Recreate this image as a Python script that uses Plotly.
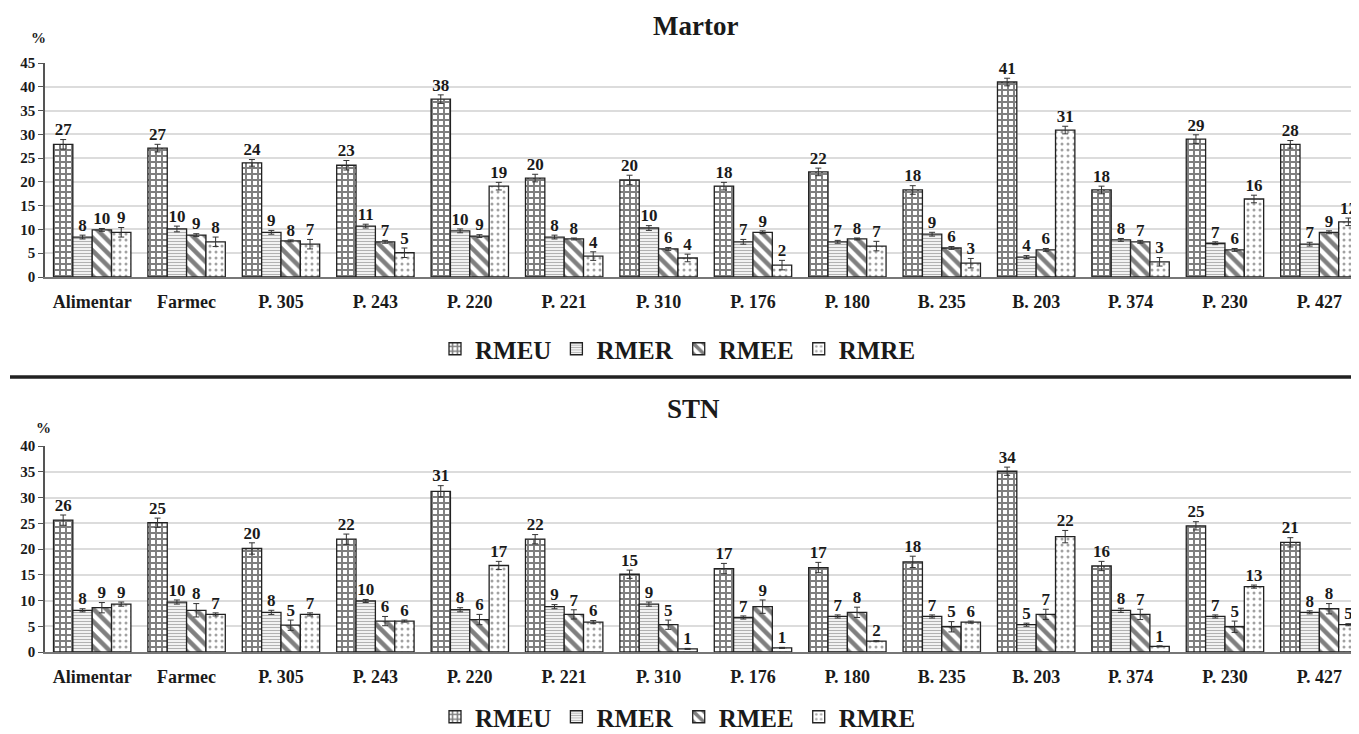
import plotly.graph_objects as go

categories = ["Alimentar", "Farmec", "P. 305", "P. 243", "P. 220", "P. 221", "P. 310",
              "P. 176", "P. 180", "B. 235", "B. 203", "P. 374", "P. 230", "P. 427"]
series_names = ["RMEU", "RMER", "RMEE", "RMRE"]

# Martor (top panel) bar heights
martor_rmeu = [27.9, 27.1, 24.0, 23.5, 37.4, 20.8, 20.4, 19.1, 22.1, 18.3, 41.0, 18.3, 29.0, 27.9]
martor_rmer = [8.4, 10.1, 9.4, 10.7, 9.7, 8.4, 10.3, 7.4, 7.4, 9.0, 4.2, 7.8, 7.1, 6.9]
martor_rmee = [9.9, 8.8, 7.6, 7.4, 8.6, 8.0, 5.9, 9.4, 8.0, 6.1, 5.7, 7.4, 5.7, 9.4]
martor_rmre = [9.4, 7.4, 6.9, 5.1, 19.1, 4.4, 4.0, 2.5, 6.5, 2.9, 30.9, 3.2, 16.4, 11.6]
# Martor error bars
martor_err_rmeu = [1.0, 0.8, 0.7, 1.0, 0.9, 0.8, 1.0, 0.8, 0.8, 0.9, 0.8, 0.8, 0.9, 0.8]
martor_err_rmer = [0.4, 0.6, 0.4, 0.4, 0.4, 0.4, 0.5, 0.5, 0.3, 0.4, 0.3, 0.3, 0.3, 0.4]
martor_err_rmee = [0.3, 0.3, 0.2, 0.3, 0.3, 0.2, 0.3, 0.3, 0.2, 0.3, 0.3, 0.3, 0.3, 0.3]
martor_err_rmre = [1.0, 1.0, 1.0, 1.0, 0.8, 0.9, 0.8, 1.0, 1.0, 1.0, 0.8, 0.9, 0.8, 0.8]
# Martor labels
martor_lbl_rmeu = [27, 27, 24, 23, 38, 20, 20, 18, 22, 18, 41, 18, 29, 28]
martor_lbl_rmer = [8, 10, 9, 11, 10, 8, 10, 7, 7, 9, 4, 8, 7, 7]
martor_lbl_rmee = [10, 9, 8, 7, 9, 8, 6, 9, 8, 6, 6, 7, 6, 9]
martor_lbl_rmre = [9, 8, 7, 5, 19, 4, 4, 2, 7, 3, 31, 3, 16, 12]

# STN (bottom panel) bar heights
stn_rmeu = [25.6, 25.1, 20.1, 21.9, 31.2, 21.9, 15.1, 16.2, 16.4, 17.5, 35.1, 16.7, 24.5, 21.3]
stn_rmer = [8.1, 9.7, 7.7, 9.9, 8.2, 8.8, 9.3, 6.7, 6.9, 6.9, 5.3, 8.1, 6.9, 7.7]
stn_rmee = [8.6, 8.1, 5.2, 6.0, 6.3, 7.3, 5.3, 8.8, 7.7, 4.9, 7.3, 7.3, 4.9, 8.4]
stn_rmre = [9.3, 7.3, 7.3, 6.0, 16.8, 5.8, 0.6, 0.8, 2.1, 5.8, 22.4, 1.1, 12.7, 5.3]
# STN error bars
stn_err_rmeu = [1.0, 0.9, 1.1, 1.0, 1.1, 0.9, 0.8, 1.0, 1.0, 1.1, 0.8, 0.9, 0.8, 0.9]
stn_err_rmer = [0.3, 0.4, 0.4, 0.3, 0.4, 0.4, 0.4, 0.3, 0.3, 0.3, 0.3, 0.4, 0.3, 0.3]
stn_err_rmee = [1.0, 1.3, 1.0, 0.9, 1.0, 0.9, 0.9, 1.3, 1.0, 1.0, 1.0, 1.0, 1.1, 1.0]
stn_err_rmre = [0.4, 0.3, 0.3, 0.2, 0.8, 0.3, 0.1, 0.1, 0.1, 0.2, 1.2, 0.1, 0.3, 0.2]
# STN labels
stn_lbl_rmeu = [26, 25, 20, 22, 31, 22, 15, 17, 17, 18, 34, 16, 25, 21]
stn_lbl_rmer = [8, 10, 8, 10, 8, 9, 9, 7, 7, 7, 5, 8, 7, 8]
stn_lbl_rmee = [9, 8, 5, 6, 6, 7, 5, 9, 8, 5, 7, 7, 5, 8]
stn_lbl_rmre = [9, 7, 7, 6, 17, 6, 1, 1, 2, 6, 22, 1, 13, 5]

FONT = "Liberation Serif, Times New Roman, serif"
INK = "#1a1a1a"
patterns = [
    dict(shape="+", size=6, solidity=0.55, fgcolor="#000", bgcolor="white"),
    dict(shape="-", size=3, solidity=0.45, fgcolor="#666", bgcolor="white"),
    dict(shape="\\", size=9, solidity=0.5, fgcolor="#000", bgcolor="white"),
    dict(shape=".", size=6, solidity=0.2, fgcolor="#444", bgcolor="white"),
]

panels = [
    ("x", "y", "legend",
     [martor_rmeu, martor_rmer, martor_rmee, martor_rmre],
     [martor_err_rmeu, martor_err_rmer, martor_err_rmee, martor_err_rmre],
     [martor_lbl_rmeu, martor_lbl_rmer, martor_lbl_rmee, martor_lbl_rmre]),
    ("x2", "y2", "legend2",
     [stn_rmeu, stn_rmer, stn_rmee, stn_rmre],
     [stn_err_rmeu, stn_err_rmer, stn_err_rmee, stn_err_rmre],
     [stn_lbl_rmeu, stn_lbl_rmer, stn_lbl_rmee, stn_lbl_rmre]),
]

fig = go.Figure()
for xa, ya, lg, vals, errs, lbls in panels:
    for k, name in enumerate(series_names):
        fig.add_trace(go.Bar(
            x=categories, y=vals[k], name=f"<b>{name}</b>", xaxis=xa, yaxis=ya, legend=lg,
            offsetgroup=str(k),
            marker=dict(color="white", pattern=patterns[k],
                        line=dict(color="#222", width=1.3)),
            error_y=dict(type="data", array=errs[k], visible=True,
                         color="#333", thickness=1, width=3),
        ))
    for k, name in enumerate(series_names):
        fig.add_trace(go.Scatter(
            x=categories, y=[v + e for v, e in zip(vals[k], errs[k])],
            text=[f"<b>{t}</b>" for t in lbls[k]], mode="text", textposition="top center",
            textfont=dict(family=FONT, size=17, color=INK),
            offsetgroup=str(k), xaxis=xa, yaxis=ya, showlegend=False,
            hoverinfo="skip", cliponaxis=False,
        ))

# The page body adds an 8px offset; work in screen pixels and convert.
OFF = 8
W, H = 1359 - OFF, 734 - OFF
L = 45 - OFF
PW = W - L


def py(sy):
    return 1 - (sy - OFF) / H


def px(sx):
    return (sx - OFF - L) / PW


axis_x = dict(range=[-0.5, 13.42], showgrid=False, showline=True, linecolor="#777",
              linewidth=1.5, ticks="", tickfont=dict(family=FONT, size=18, color=INK),
              ticklabelstandoff=8, tickprefix="<b>", ticksuffix="</b>", automargin=False)
axis_y = dict(showgrid=True, gridcolor="#dcdcdc", gridwidth=2, showline=True,
              linecolor="#555", linewidth=1.5, ticks="outside", ticklen=5, tickcolor="#555",
              dtick=5, tickfont=dict(family=FONT, size=15, color=INK), zeroline=False,
              tickprefix="<b>", ticksuffix="</b>", automargin=False)

legend_common = dict(orientation="h", x=px(678), xanchor="center", yanchor="middle",
                     font=dict(family=FONT, size=25, color=INK), itemwidth=30,
                     bgcolor="rgba(0,0,0,0)")

ann_common = dict(xref="paper", yref="paper", xanchor="center", yanchor="middle",
                  showarrow=False)

fig.update_layout(
    width=W, height=H,
    margin=dict(l=L, r=0, t=0, b=0, autoexpand=False),
    paper_bgcolor="white", plot_bgcolor="white",
    barmode="group", bargap=0.18, bargroupgap=0,
    scattermode="group", scattergap=0.18,
    font=dict(family=FONT, color=INK),
    xaxis=dict(axis_x, domain=[0, 1], anchor="y"),
    yaxis=dict(axis_y, domain=[py(277), py(63)], range=[0, 45], anchor="x"),
    xaxis2=dict(axis_x, domain=[0, 1], anchor="y2"),
    yaxis2=dict(axis_y, domain=[py(652), py(446)], range=[0, 40], anchor="x2"),
    legend=dict(legend_common, y=py(349)),
    legend2=dict(legend_common, y=py(717)),
    showlegend=True,
    annotations=[
        dict(ann_common, text="<b>Martor</b>", x=px(695), y=py(26),
             font=dict(family=FONT, size=27, color=INK)),
        dict(ann_common, text="<b>STN</b>", x=px(693), y=py(409),
             font=dict(family=FONT, size=27, color=INK)),
        dict(ann_common, text="<b>%</b>", x=px(38), y=py(38),
             font=dict(family=FONT, size=15, color=INK)),
        dict(ann_common, text="<b>%</b>", x=px(43), y=py(428),
             font=dict(family=FONT, size=15, color=INK)),
    ],
    shapes=[
        dict(type="line", xref="paper", yref="paper", x0=px(10), x1=1.0,
             y0=py(377), y1=py(377), line=dict(color="#222", width=3.5)),
    ],
)

fig.write_html("out.html")
